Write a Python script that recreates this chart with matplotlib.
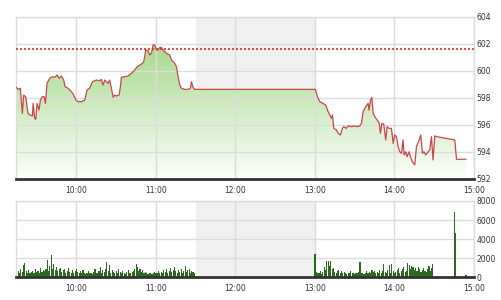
import matplotlib
matplotlib.use('Agg')
import matplotlib.pyplot as plt
import numpy as np
from matplotlib.patches import Polygon
from matplotlib.colors import LinearSegmentedColormap

# ---------------- data ----------------
# time in minutes after 09:00
price_min = [14.5, 16.0, 17.7, 19.2, 20.2, 21.7, 23.5, 24.8, 26.8, 27.3, 28.5, 29.3, 30.3, 31.8,
             32.8, 34.3, 35.6, 36.6, 37.8, 39.8, 41.9, 43.6, 45.4, 46.9, 48.7, 50.4, 51.4, 53.7,
             56.2, 58.0, 59.5, 61.2, 63.8, 66.3, 68.0, 70.0, 72.1, 75.1, 77.6, 78.8, 80.1, 81.4,
             82.6, 83.9, 85.1, 86.4, 87.7, 88.9, 90.2, 92.2, 93.2, 93.9, 96.5, 99.0, 101.5, 104.0,
             105.8, 107.8, 109.8, 110.8, 112.3, 114.1, 115.3, 116.6, 117.8, 119.1, 120.4, 121.6,
             122.9, 124.1, 125.4, 127.9, 130.4, 131.7, 132.9, 134.2, 135.5, 136.7, 138.0, 139.2,
             141.7, 144.3, 146.0, 146.8, 148.0, 149.3,
             240.3, 241.1, 242.4, 243.6, 246.1, 248.1, 249.9, 251.2, 252.4, 253.2, 254.2, 256.2,
             257.5, 259.2, 260.7, 261.7, 263.7, 265.0, 267.5, 270.0, 271.8, 273.8, 275.1, 276.3,
             278.3, 280.1, 280.8, 281.9, 282.9, 283.9, 285.1, 286.9, 288.4, 289.4, 290.4, 291.9,
             293.4, 294.4, 295.9, 297.7, 299.0, 300.2, 301.5, 302.7, 304.0, 305.3, 306.5, 307.3,
             308.5, 309.5, 311.0, 312.0, 313.5, 315.3, 316.6, 318.6, 319.8, 321.1, 322.1, 323.6,
             325.4, 326.6, 327.9, 329.1, 330.4, 331.7, 345.5, 346.8, 353.8]
price_val = [598.79, 598.64, 598.72, 596.86, 598.22, 598.10, 596.86, 596.74, 596.67, 597.60, 596.49,
             596.42, 597.60, 597.11, 597.85, 598.10, 598.10, 597.60, 599.09, 599.46, 599.58, 599.53,
             599.70, 599.46, 599.63, 599.33, 598.84, 598.72, 598.47, 598.22, 597.85, 597.73, 597.73,
             597.85, 598.59, 598.72, 599.21, 599.33, 599.28, 599.38, 598.96, 599.33, 599.21, 599.09,
             599.33, 598.72, 598.05, 598.22, 598.15, 598.22, 598.84, 599.53, 599.58, 599.63, 599.83,
             600.07, 600.32, 600.44, 600.57, 600.69, 601.56, 601.51, 601.19, 601.31, 601.93, 601.93,
             601.56, 601.56, 601.75, 601.75, 601.56, 601.31, 601.19, 600.81, 600.69, 600.57, 600.32,
             599.58, 598.96, 598.72, 598.64, 598.64, 598.72, 599.21, 598.79, 598.64,
             598.64, 598.35, 597.97, 597.73, 597.60, 597.48, 596.99, 596.74, 596.49, 596.74, 595.75,
             595.63, 595.38, 595.26, 595.75, 595.88, 595.75, 595.93, 595.88, 595.93, 595.88, 595.93,
             596.12, 596.99, 597.36, 597.60, 597.11, 597.85, 598.05, 596.86, 596.62, 596.37, 596.17,
             595.38, 596.12, 596.07, 594.89, 595.88, 595.75, 595.75, 594.64, 595.26, 595.14, 594.40,
             594.02, 593.90, 594.89, 593.78, 594.02, 593.65, 594.02, 593.65, 593.28, 593.04, 594.40,
             594.89, 595.26, 593.90, 594.02, 593.78, 594.02, 594.15, 595.14, 593.41, 595.19, 595.14,
             594.89, 593.46, 593.46]
ref_price = 601.6

vol_morning_start = 15
vol_morning = [500, 700, 400, 900, 600, 1300, 1500, 700, 500, 800, 400, 600, 700, 500, 900,
               600, 700, 500, 1000, 600, 800, 700, 900, 1800, 700, 1200, 2300, 900, 1400, 800,
               1100, 700, 900, 1000, 600, 800, 900, 500, 700, 1000, 600, 400, 800, 500, 700,
               900, 600, 400, 700, 500, 800, 400, 300, 500, 700, 400, 500, 300, 600, 900,
               500, 400, 700, 1100, 500, 800, 600, 900, 1600, 700, 1300, 500, 800, 600, 400,
               700, 500, 900, 600, 400, 700, 500, 300, 600, 800, 500, 400, 600, 700, 900,
               1400, 1100, 700, 900, 600, 800, 500, 600, 400, 300, 500, 400, 300, 500, 600,
               400, 500, 700, 400, 600, 500, 800, 600, 900, 500, 700, 1000, 600, 800, 1100,
               700, 500, 800, 600, 900, 500, 700, 1200, 600, 800, 900, 500, 700, 600, 400]
vol_afternoon_start = 240
vol_afternoon = [2400, 600, 500, 400, 700, 300, 600, 1100, 800, 1700, 1700, 1200, 1700, 900, 1000,
                 600, 400, 700, 800, 500, 700, 400, 600, 500, 300, 400, 500, 700, 400, 500,
                 300, 500, 400, 600, 1600, 500, 400, 300, 500, 700, 500, 600, 400, 800, 600,
                 700, 500, 600, 400, 800, 500, 700, 1400, 600, 500, 800, 1300, 500, 1400, 700,
                 500, 600, 800, 1000, 500, 700, 900, 1100, 600, 700, 1500, 1300, 900, 1200, 1100,
                 800, 1000, 700, 1100, 900, 600, 800, 1000, 700, 600, 900, 1200, 700, 1000, 1400]
atc_min = [345, 346, 354]
atc_vol = [6800, 4600, 200]

hour_ticks = [60, 120, 180, 240, 300, 360]
hour_labels = ['10:00', '11:00', '12:00', '13:00', '14:00', '15:00']
price_ticks = [592, 594, 596, 598, 600, 602, 604]
vol_ticks = [0, 2000, 4000, 6000, 8000]
lunch = (150, 240)

# ---------------- figure ----------------
W, H = 501, 300
fig = plt.figure(figsize=(W / 100, H / 100), dpi=100)
ax1 = fig.add_axes([16 / W, 1 - 179 / H, 458 / W, 162 / H])
ax2 = fig.add_axes([16 / W, 1 - 277.3 / H, 458 / W, 76.3 / H])
xlim = (14.4, 360)
txt_color = '#333333'
grid_color = '#dcdcdc'

for ax in (ax1, ax2):
    ax.set_xlim(*xlim)
    ax.axvspan(lunch[0], lunch[1], color='#f0f0f0', zorder=0.1, lw=0)
    ax.set_axisbelow(True)
    ax.grid(True, color=grid_color, lw=1.0)
    ax.set_xticks(hour_ticks)
    ax.set_xticklabels(hour_labels)
    ax.tick_params(axis='x', length=0, pad=5, labelsize=5.5, colors=txt_color)
    ax.tick_params(axis='y', left=False, right=True, labelleft=False, labelright=True,
                   length=0, pad=2, labelsize=5.5, colors=txt_color)
    for s in ('left', 'top', 'right'):
        ax.spines[s].set_color(grid_color)
        ax.spines[s].set_linewidth(1.0)
    ax.spines['bottom'].set_color('#333333')
    ax.spines['bottom'].set_linewidth(2.0)

# price panel
ax1.set_ylim(592, 604)
ax1.set_yticks(price_ticks)
cmap = LinearSegmentedColormap.from_list('g', [(252 / 255, 254 / 255, 250 / 255),
                                               (150 / 255, 210 / 255, 120 / 255)])
grad = np.linspace(0, 1, 256).reshape(-1, 1)
im = ax1.imshow(grad, extent=[xlim[0], xlim[1], 592, 604], origin='lower', aspect='auto',
                cmap=cmap, zorder=0.2, interpolation='bilinear')
poly_pts = [(price_min[0], 592)] + list(zip(price_min, price_val)) + [(price_min[-1], 592)]
poly = Polygon(poly_pts, closed=True, facecolor='none', edgecolor='none', transform=ax1.transData)
ax1.add_patch(poly)
im.set_clip_path(poly)
ax1.plot(price_min, price_val, color='#c9474a', lw=0.9, zorder=3)
ax1.axhline(ref_price, color='#e02828', lw=1.2, ls=(0, (1.2, 1.2)), zorder=3)
ax1.set_xlim(*xlim)

# volume panel
ax2.set_ylim(0, 8000)
ax2.set_yticks(vol_ticks)
m_morning = np.arange(len(vol_morning)) + vol_morning_start
m_afternoon = np.arange(len(vol_afternoon)) + vol_afternoon_start
bar_color = '#2c6a20'
ax2.bar(m_morning, vol_morning, width=0.85, color=bar_color, lw=0, zorder=2)
ax2.bar(m_afternoon, vol_afternoon, width=0.85, color=bar_color, lw=0, zorder=2)
ax2.bar(atc_min, atc_vol, width=0.85, color=bar_color, lw=0, zorder=2)

fig.savefig('out.png', dpi=100)
